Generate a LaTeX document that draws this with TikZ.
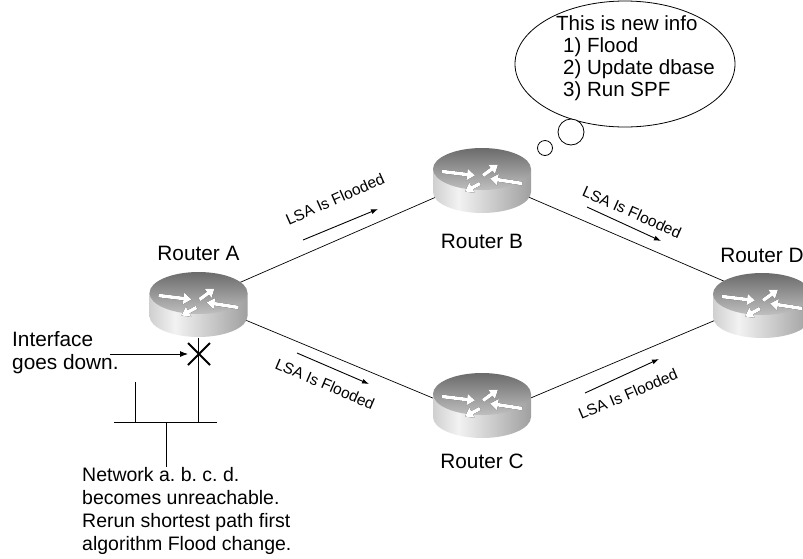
\documentclass[tikz,border=0pt]{standalone}
\usepackage{fontspec}
\setmainfont{Liberation Sans}
\usepackage{tikz}
\usetikzlibrary{positioning,shapes.geometric,shapes.misc,arrows.meta,calc,backgrounds}

% side of the router cylinder
\pgfdeclarehorizontalshading{routerside}{100bp}{color(0bp)=(black!45); color(38bp)=(black!5); color(78bp)=(black!40); color(100bp)=(black!70)}

\frenchspacing
\begin{document}
\begin{tikzpicture}[x=1pt, y=-1pt,
		lbl/.style={inner sep=0pt, font=\fontsize{20.8}{23}\selectfont},
		lsa/.style={inner sep=0pt, font=\fontsize{15.5}{17}\selectfont},
		link/.style={line width=0.7pt},
		flood/.style={line width=0.9pt, -{Latex[length=7pt,width=5pt]}},
		wire/.style={line width=0.9pt},
		puff/.style={draw, circle, fill=white, inner sep=0pt, line width=0.8pt},
		rarrow/.style={line width=3.6pt, -{Triangle[length=8pt,width=11pt]}},
		router/.style={minimum width=100pt, minimum height=67pt, inner sep=0pt, draw=none,
			path picture={
				\begin{scope}[shift={(path picture bounding box.center)}]
					% body
					\shade[shading=routerside] (-49pt,11.5pt) -- (-49pt,-11.5pt)
						arc[start angle=180, end angle=360, x radius=49pt, y radius=21pt]
						-- (49pt,11.5pt) -- cycle;
					% top face
					\shade[top color=black!58, bottom color=black!25] (0pt,11.5pt)
						ellipse [x radius=49pt, y radius=21pt];
					% the four arrows
					\begin{scope}[shift={(0pt,11.5pt)}]
						\foreach \xa/\ya/\xb/\yb in {-40/9/-7/5, 40/-3/8/2, 1/5/16/16, -2/-3/-17/-11}{
							\draw[rarrow, black, shift={(1pt,-1.3pt)}] (\xa pt,\ya pt) -- (\xb pt,\yb pt);
							\draw[rarrow, white] (\xa pt,\ya pt) -- (\xb pt,\yb pt);
						}
					\end{scope}
				\end{scope}
			}}]
	\useasboundingbox (0,0) rectangle (803,558);
	\clip (0,0) rectangle (803,558);

	% routers
	\node[router] (ra) at (198.5,304.5) {};
	\node[router] (rb) at (482,180.5) {};
	\node[router] (rc) at (482,405.5) {};
	\node[router] (rd) at (762,305.5) {};
	\node[lbl, above=10pt of ra] (la) {Router A};
	\node[lbl, below=20pt of rb] (lb) {Router B};
	\node[lbl, below=15pt of rc] (lc) {Router C};
	\node[lbl, above=9pt of rd] (ld) {Router D};

	\begin{scope}[on background layer]
		\draw[link] ([yshift=4pt]ra.center) -- ([yshift=3.5pt]rb.center);
		\draw[link] ([yshift=3.5pt]rb.center) -- ([yshift=8pt]rd.center);
		\draw[link] ([yshift=4pt]ra.center) -- ([yshift=-13pt]rc.center);
		\draw[link] ([yshift=-13pt]rc.center) -- ([yshift=5pt]rd.center);
	\end{scope}

	% flooding
	\node[lsa, rotate=24] (fab) at (335,199) {LSA Is Flooded};
	\node[lsa, rotate=-24] (fbd) at (632,212) {LSA Is Flooded};
	\node[lsa, rotate=-23] (fac) at (325,384) {LSA Is Flooded};
	\node[lsa, rotate=23] (fcd) at (628,394) {LSA Is Flooded};
	\coordinate (fab1) at (303,240); \coordinate (fab2) at (378,209);
	\coordinate (fbd1) at (587,207); \coordinate (fbd2) at (661,241);
	\coordinate (fac1) at (297,353); \coordinate (fac2) at (369,384);
	\coordinate (fcd1) at (585,393); \coordinate (fcd2) at (659,359);
	\draw[flood] (fab1) -- (fab2);
	\draw[flood] (fbd1) -- (fbd2);
	\draw[flood] (fac1) -- (fac2);
	\draw[flood] (fcd1) -- (fcd2);

	% failed interface
	\node[lbl, align=left, anchor=west] (ifc) at (12,353) {Interface\\goes down.};
	\node[cross out, draw, line width=2pt, minimum size=20pt, inner sep=0pt] (cut) at (199,354) {};
	\coordinate (ifcarrow) at (110,354);
	\draw[line width=0.9pt, -{Latex[length=8pt,width=6pt]}] (ifcarrow) -- (cut);

	% lan segment
	\coordinate (busl) at (114,422);
	\coordinate (busr) at (217,422);
	\coordinate (tap) at (198.5,422);
	\coordinate (stub) at (135,382);
	\coordinate (drop) at (166,422);
	\draw[wire] (ra.south) -- (tap);
	\draw[wire] (busl) -- (busr);
	\draw[wire] (stub) -- (stub |- busl);
	\node[lbl, font=\fontsize{19.5}{23}\selectfont, align=left, anchor=north west] (net) at (82,467)
		{Network a. b. c. d.\\becomes unreachable.\\Rerun shortest path first\\algorithm Flood change.};
	\draw[wire] (drop) -- (drop |- net.north);

	% thought bubble
	\node[draw, ellipse, line width=0.8pt, inner sep=0pt, minimum width=220pt, minimum height=126pt] (bubble) at (625,64) {};
	\node[lbl, font=\fontsize{20.5}{22}\selectfont, align=left, anchor=west] (info) at (556,58)
		{This is new info\\\hspace*{7pt}1) Flood\\\hspace*{7pt}2) Update dbase\\\hspace*{7pt}3) Run SPF};
	\node[puff, minimum size=26pt] (puffa) at (571,132) {};
	\node[puff, minimum size=15pt] (puffb) at (545,148) {};
\end{tikzpicture}
\end{document}
